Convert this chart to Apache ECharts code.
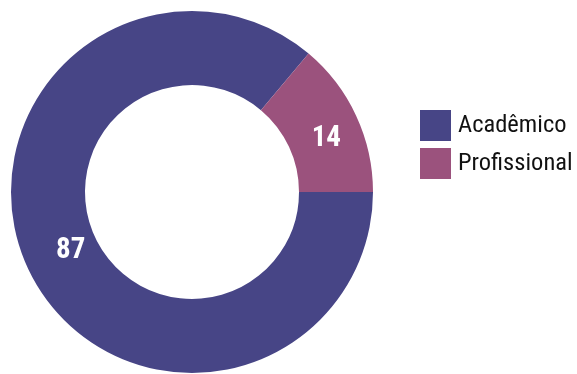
<!DOCTYPE html>
<html>
<head>
<meta charset="utf-8">
<script src="https://cdn.jsdelivr.net/npm/echarts@6/dist/echarts.min.js"></script>
<style>
  html, body { margin: 0; padding: 0; background: #fff; }
  #chart { width: 577px; height: 374px; }
</style>
</head>
<body>
<div id="chart"></div>
<script>
// Categories and their counts
const categories = ['Acadêmico', 'Profissional'];
const values = [87, 14];
const colors = ['#474586', '#9b527d'];

// Narrow typeface: the stretch keyword rides along in the weight slot of the canvas font string
const FONT = '"Roboto Condensed", "DejaVu Sans Condensed", "DejaVu Sans", sans-serif';

const chart = echarts.init(document.getElementById('chart'), null, { renderer: 'canvas' });

chart.setOption({
  animation: false,
  color: colors,
  legend: {
    orient: 'vertical',
    left: 420,
    top: 110,
    padding: 0,
    itemWidth: 31,
    itemHeight: 31,
    itemGap: 7,
    icon: 'rect',
    data: categories,
    textStyle: {
      fontFamily: FONT,
      fontWeight: 'condensed',
      fontSize: 24.5,
      color: '#111',
      padding: [0, 0, 0, 2]
    }
  },
  series: [{
    type: 'pie',
    center: [192, 192],
    radius: [107, 181],
    startAngle: 0,
    clockwise: true,
    silent: true,
    label: {
      show: true,
      position: 'inside',
      formatter: '{c}',
      color: '#fff',
      fontFamily: FONT,
      fontWeight: 'bold condensed',
      fontSize: 29
    },
    labelLayout: function (params) {
      return params.dataIndex === 0 ? { dx: 12, dy: -3 } : { dx: 1, dy: 9 };
    },
    labelLine: { show: false },
    itemStyle: { borderWidth: 0 },
    data: categories.map((name, i) => ({ name, value: values[i] }))
  }]
});
</script>
</body>
</html>
